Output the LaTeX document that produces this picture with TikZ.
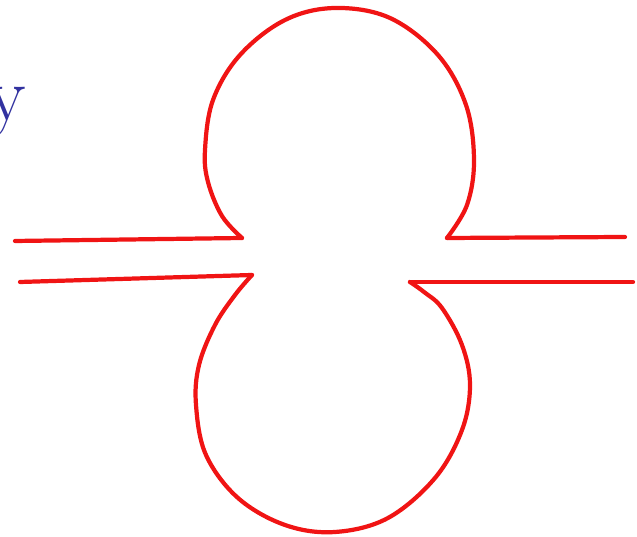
\documentclass[tikz,border=0pt]{standalone}
\usepackage{xcolor}
\definecolor{penred}{RGB}{240,20,20}
\definecolor{penblue}{RGB}{50,50,160}
\tikzset{
  pen/.style={draw=penred, line width=1.2pt, line cap=round, line join=round},
}
\begin{document}
\begin{tikzpicture}
\useasboundingbox (0,0) rectangle (6.37,5.37);
% junctions of the two bulbs with the tube
\coordinate (tlj) at (2.42,2.99);
\coordinate (trj) at (4.47,2.99);
\coordinate (blj) at (2.52,2.62);
\coordinate (brj) at (4.10,2.55);

% tube walls
\draw[pen] (0.15,2.96) -- (tlj);
\draw[pen] (trj) -- (6.25,3.00);
\draw[pen] (0.20,2.55) -- (blj);
\draw[pen] (brj) -- (6.33,2.55);

% upper bulb
\draw[pen] plot[smooth, tension=0.6] coordinates {(tlj) (2.22,3.21) (2.08,3.55) (2.05,3.87) (2.13,4.37) (2.40,4.82) (2.85,5.17) (3.35,5.29) (3.90,5.19) (4.38,4.82) (4.66,4.32) (4.74,3.77) (4.67,3.32) (trj)};

% lower bulb
\draw[pen] plot[smooth, tension=0.6] coordinates {(blj) (2.35,2.42) (2.15,2.12) (1.99,1.72) (1.96,1.32) (2.06,0.82) (2.38,0.39) (2.85,0.12) (3.35,0.05) (3.88,0.19) (4.35,0.59) (4.62,1.07) (4.70,1.52) (4.62,1.92) (4.42,2.29) (4.24,2.45) (brj)};

\node[text=penblue, font=\fontsize{22}{26}\selectfont, inner sep=0pt, anchor=base east] (ylabel) at (0.27,4.16) {y};
\end{tikzpicture}
\end{document}
